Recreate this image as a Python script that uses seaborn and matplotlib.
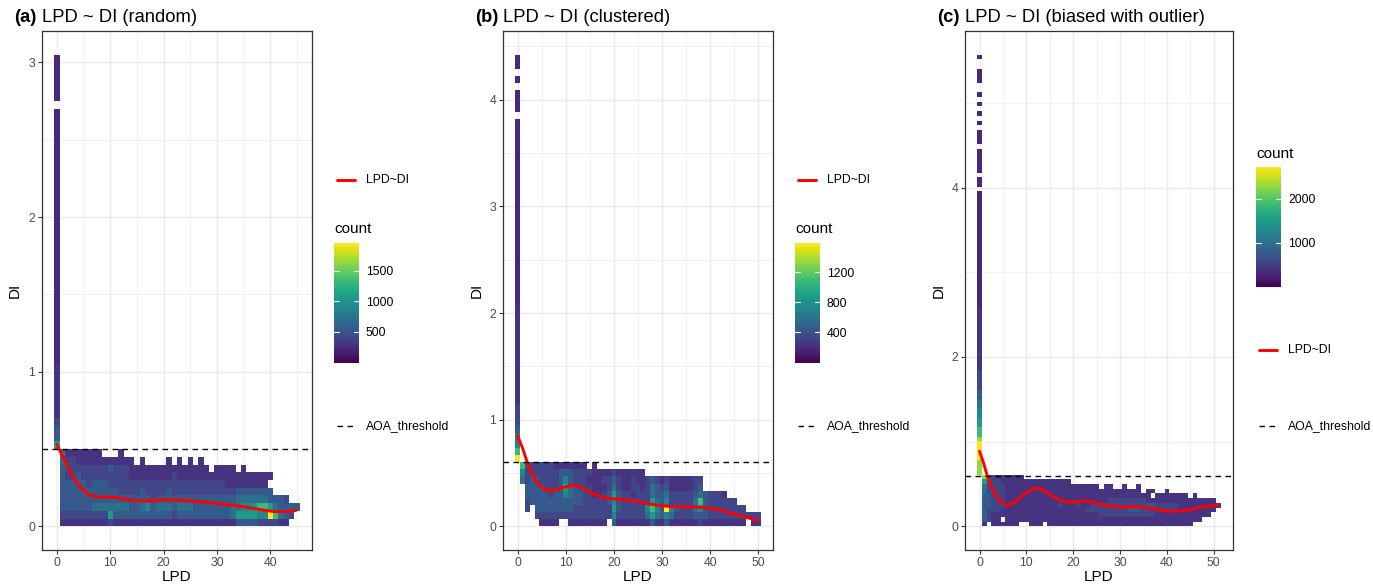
import numpy as np
import pandas as pd
import matplotlib
matplotlib.use("Agg")
import matplotlib.pyplot as plt
from matplotlib.lines import Line2D
import seaborn as sns

W, H = 1373, 586

# colour level of a cell as a share of the panel's max count
LEVEL_FRAC = {"0": 0.11, "1": 0.15, "2": 0.21, "3": 0.28, "4": 0.36,
              "5": 0.45, "6": 0.55, "7": 0.68, "8": 0.84, "9": 1.0}

# ---- (a) random: rows of DI bins (bottom first), one char per LPD 0..45 ----
a_rows = [
    ".111111111" "2111111111" "1111111111" "1111333322" "2211..",
    ".222222222" "6333333333" "3323333333" "3334666655" "97432.",
    ".333333444" "4444334534" "4434443333" "3334455677" "643333",
    ".333333333" "3333333323" "3333333333" "3333444444" "3332..",
    ".333333333" "3322223222" "2322222222" "2222333333" "3.....",
    ".333332333" "2222222222" "2222222222" "2211111111" "......",
    ".322322222" "2222111111" "1121111111" "1111111111" "1.....",
    ".332222222" "3222111111" "111111111." "1111.1...." "......",
    ".422111111" "11111.1..." ".1.1.1.1.." ".........." "......",
    ".41111111." "..1......." ".........." ".........." "......",
]
# LPD = 0 column: (first DI bin, last DI bin, level)
a_spike = [(10, 10, "6"), (11, 12, "3"), (13, 13, "2"), (14, 20, "1"),
           (21, 53, "0"), (55, 60, "0")]
a_curve_lpd = [0, 1, 2, 3, 4, 5, 6, 7.6, 9.5, 11, 13.2, 15, 17, 20, 23.2,
               26.4, 29.5, 32.6, 35.7, 38.9, 40.7, 42.6, 44.8]
a_curve_di = [0.532, 0.455, 0.388, 0.322, 0.27, 0.232, 0.205, 0.19, 0.19,
              0.188, 0.174, 0.165, 0.166, 0.172, 0.17, 0.162, 0.151, 0.138,
              0.123, 0.104, 0.096, 0.095, 0.103]

# ---- (b) clustered: LPD 0..50 ----
b_rows = [
    ".....1111." ".11111111." "3111111131" "1311111121" "11111111.1" "1",
    "....222222" "2222222222" "5222222464" "3542222333" "2222222222" "2",
    "..2.333333" "3322222222" "6322222575" "3953222453" "22222222.." ".",
    "..23333333" "3333222223" "5322222264" "3522222473" "222222...." ".",
    "..33333233" "5433221123" "6322122243" "3422222343" "2221......" ".",
    "..33332223" "6432221112" "4211221243" "231111123." ".........." ".",
    ".423322223" "5322211122" "3211211232" "121111122." ".........." ".",
    ".522222223" "3322221111" "2111111..." ".........." ".........." ".",
    ".722222211" "11111.1..." ".........." ".........." ".........." ".",
]
b_spike = [(9, 9, "9"), (10, 10, "7"), (11, 11, "5"), (12, 12, "4"),
           (13, 13, "3"), (14, 16, "2"), (17, 30, "1"), (31, 56, "0"),
           (58, 60, "0"), (62, 62, "0"), (64, 65, "0")]
b_curve_lpd = [0, 1, 2, 3, 4, 5.5, 6.9, 9, 11.1, 12.8, 14.5, 16.6, 18.7,
               21.5, 24.2, 27, 29.8, 32.5, 36, 39.5, 42.2, 45, 47.8, 49.9]
b_curve_di = [0.85, 0.735, 0.6, 0.49, 0.41, 0.35, 0.331, 0.36, 0.384, 0.375,
              0.334, 0.288, 0.263, 0.253, 0.24, 0.213, 0.194, 0.184, 0.184,
              0.175, 0.15, 0.116, 0.081, 0.056]

# ---- (c) biased with outlier: LPD 0..51 ----
c_rows = [
    ".1.111111." ".111.11111" "1111111111" "1111111111" "111111...." "..",
    ".3211.1111" "1111111111" "1111111111" "1111111111" "11111111.." "..",
    ".321111111" "1111111111" "1111112222" "2222222211" "1111111111" "..",
    ".322211111" "1111111111" "1112222222" "2233322222" "2211111111" "1.",
    ".332221111" "1111111211" "1211222222" "2222223322" "2221111111" "11",
    ".332221111" "1111111111" "1111111122" "2222221111" "1111111111" "1.",
    ".332221111" "1111111111" "1111111111" "1111111.11" "11111.1..." "..",
    ".423221111" "1111111111" "1111111111" "11111.11.." "1........." "..",
    ".422221111" "1111111111" "111111.11." ".1..1....." ".........." "..",
    ".622211111" "1111111111" ".........." ".........." ".........." "..",
    ".822111111" ".........." ".........." ".........." ".........." "..",
]
c_spike = [(11, 13, "8"), (14, 17, "9"), (18, 18, "8"), (19, 20, "7"),
           (21, 22, "6"), (23, 24, "5"), (25, 26, "4"), (27, 28, "3"),
           (29, 32, "2"), (33, 45, "1"), (46, 70, "0"), (72, 73, "0"),
           (75, 79, "0"), (81, 83, "0"), (85, 85, "0"), (87, 87, "0"),
           (89, 89, "0"), (91, 91, "0"), (94, 96, "0"), (99, 99, "0")]
c_curve_lpd = [0, 0.85, 1.9, 3, 4.4, 5.8, 7.3, 9.4, 11.5, 13, 15.1, 17.2,
               19.4, 22.2, 24.3, 27.2, 30, 33.6, 36.4, 39.3, 41.4, 44.3,
               47.1, 51]
c_curve_di = [0.888, 0.75, 0.552, 0.414, 0.296, 0.249, 0.276, 0.375, 0.446,
              0.446, 0.375, 0.308, 0.284, 0.304, 0.284, 0.245, 0.229, 0.233,
              0.217, 0.185, 0.178, 0.189, 0.225, 0.256]

panels = [
    dict(tag="(a)", title="LPD ~ DI (random)", rows=a_rows, spike=a_spike,
         dy=0.05, cmax=1950, threshold=0.5,
         curve_lpd=a_curve_lpd, curve_di=a_curve_di,
         box=(42, 31, 312, 550), tag_x=14, ylab_x=15,
         xlim=(-2.8, 47.8), ylim=(-0.1525, 3.2025),
         xticks=[0, 10, 20, 30, 40], xminor=[5, 15, 25, 35, 45],
         yticks=[0, 1, 2, 3], yminor=[0.5, 1.5, 2.5],
         cticks=[500, 1000, 1500],
         leg_x=334, line_y=180, count_y=229, cbar=(243, 362.5), aoa_y=425.6),
    dict(tag="(b)", title="LPD ~ DI (clustered)", rows=b_rows, spike=b_spike,
         dy=0.067, cmax=1590, threshold=0.6,
         curve_lpd=b_curve_lpd, curve_di=b_curve_di,
         box=(503, 31, 773, 550), tag_x=475, ylab_x=477,
         xlim=(-3.05, 53.05), ylim=(-0.2211, 4.643),
         xticks=[0, 10, 20, 30, 40, 50], xminor=[5, 15, 25, 35, 45],
         yticks=[0, 1, 2, 3, 4], yminor=[0.5, 1.5, 2.5, 3.5, 4.5],
         cticks=[400, 800, 1200],
         leg_x=795, line_y=180, count_y=229, cbar=(243, 362.5), aoa_y=425.6),
    dict(tag="(c)", title="LPD ~ DI (biased with outlier)", rows=c_rows,
         spike=c_spike, dy=0.0557, cmax=2727, threshold=0.6,
         curve_lpd=c_curve_lpd, curve_di=c_curve_di,
         box=(965, 31, 1233, 550), tag_x=937, ylab_x=939,
         xlim=(-3.1, 54.1), ylim=(-0.2785, 5.8485),
         xticks=[0, 10, 20, 30, 40, 50], xminor=[5, 15, 25, 35, 45],
         yticks=[0, 2, 4], yminor=[1, 3, 5],
         cticks=[1000, 2000],
         leg_x=1256, line_y=350, count_y=154, cbar=(167, 286.6), aoa_y=425.6),
]

DASH = (0, (4.0, 3.2))


def px_rect(left, top, right, bottom):
    return [left / W, 1 - bottom / H, (right - left) / W, (bottom - top) / H]


def fx(x):
    return x / W


def fy(y):
    return 1 - y / H


def build_cells(rows, spike, dy, cmax):
    recs = []
    for r, row in enumerate(rows):
        for k, ch in enumerate(row):
            if ch != ".":
                recs.append((k, (r + 0.5) * dy, LEVEL_FRAC[ch] * cmax))
    for first, last, ch in spike:
        for r in range(first, last + 1):
            recs.append((0, (r + 0.5) * dy, LEVEL_FRAC[ch] * cmax))
    return pd.DataFrame(recs, columns=["LPD", "DI", "count"])


def draw_panel(fig, p):
    left, top, right, bottom = p["box"]
    ax = fig.add_axes(px_rect(left, top, right, bottom))
    df = build_cells(p["rows"], p["spike"], p["dy"], p["cmax"])
    ncols = max(len(r) for r in p["rows"])
    nrows = max(last for _, last, _ in p["spike"]) + 1

    sns.histplot(data=df, x="LPD", y="DI", weights="count",
                 binwidth=(1, p["dy"]),
                 binrange=((-0.5, ncols - 0.5), (0, nrows * p["dy"])),
                 cmap="viridis", ax=ax)
    mesh = ax.collections[0]
    mesh.set_clim(1, p["cmax"])

    sns.lineplot(x=p["curve_lpd"], y=p["curve_di"], color="red",
                 linewidth=2.1, ax=ax)
    ax.axhline(p["threshold"], color="black", lw=1.0, ls=DASH)

    ax.set_xlim(p["xlim"])
    ax.set_ylim(p["ylim"])
    ax.set_xticks(p["xticks"])
    ax.set_xticks(p["xminor"], minor=True)
    ax.set_yticks(p["yticks"])
    ax.set_yticks(p["yminor"], minor=True)
    ax.tick_params(which="minor", length=0)
    ax.tick_params(which="major", bottom=True, left=True, length=2.75,
                   width=0.8, color="#333333", labelsize=8.8,
                   labelcolor="#4D4D4D", pad=2.2)
    ax.grid(which="major", color="#EBEBEB", lw=1.07)
    ax.grid(which="minor", color="#EBEBEB", lw=0.53)
    ax.set_axisbelow(True)
    for s in ax.spines.values():
        s.set_visible(True)
        s.set_color("#333333")
        s.set_linewidth(0.9)

    ax.set_xlabel("LPD", fontsize=11, color="black", va="center")
    ax.set_ylabel("DI", fontsize=11, color="black", va="center")
    ax.xaxis.set_label_coords(0.5, (bottom - 577) / (bottom - top))
    ax.yaxis.set_label_coords((p["ylab_x"] - left) / (right - left), 0.5)

    fig.text(fx(p["tag_x"]), fy(22.5), p["tag"], fontsize=13.2,
             fontweight="bold", va="baseline", color="black")
    fig.text(fx(left), fy(22.5), p["title"], fontsize=13.2,
             va="baseline", color="black")

    # legend column
    lx = p["leg_x"]
    fig.add_artist(Line2D([fx(lx + 3), fx(lx + 21)], [fy(p["line_y"])] * 2,
                          color="red", lw=2.1))
    fig.text(fx(lx + 32), fy(p["line_y"]), "LPD~DI", fontsize=8.8,
             va="center", color="black")
    fig.text(fx(lx), fy(p["count_y"]), "count", fontsize=11,
             va="center", color="black")
    cax = fig.add_axes(px_rect(lx, p["cbar"][0], lx + 25, p["cbar"][1]))
    cb = fig.colorbar(mesh, cax=cax)
    cb.outline.set_visible(False)
    cb.set_ticks(p["cticks"])
    cax.tick_params(length=0, labelsize=8.8, pad=5, labelcolor="black")
    for t in p["cticks"]:
        for x0, x1 in ((0, 0.2), (0.8, 1.0)):
            cax.add_artist(Line2D([x0, x1], [t, t], color="white", lw=0.8,
                                  transform=cax.get_yaxis_transform()))
    fig.add_artist(Line2D([fx(lx + 3), fx(lx + 21)], [fy(p["aoa_y"])] * 2,
                          color="black", lw=1.0, ls=DASH))
    fig.text(fx(lx + 32), fy(p["aoa_y"]), "AOA_threshold", fontsize=8.8,
             va="center", color="black")


def main():
    sns.set_theme(style="ticks")
    plt.rcParams["font.family"] = ["Liberation Sans", "DejaVu Sans"]
    plt.rcParams["text.color"] = "black"

    fig = plt.figure(figsize=(W / 100, H / 100), dpi=100)
    for p in panels:
        draw_panel(fig, p)
    fig.savefig("out.png", dpi=100)


if __name__ == "__main__":
    main()
